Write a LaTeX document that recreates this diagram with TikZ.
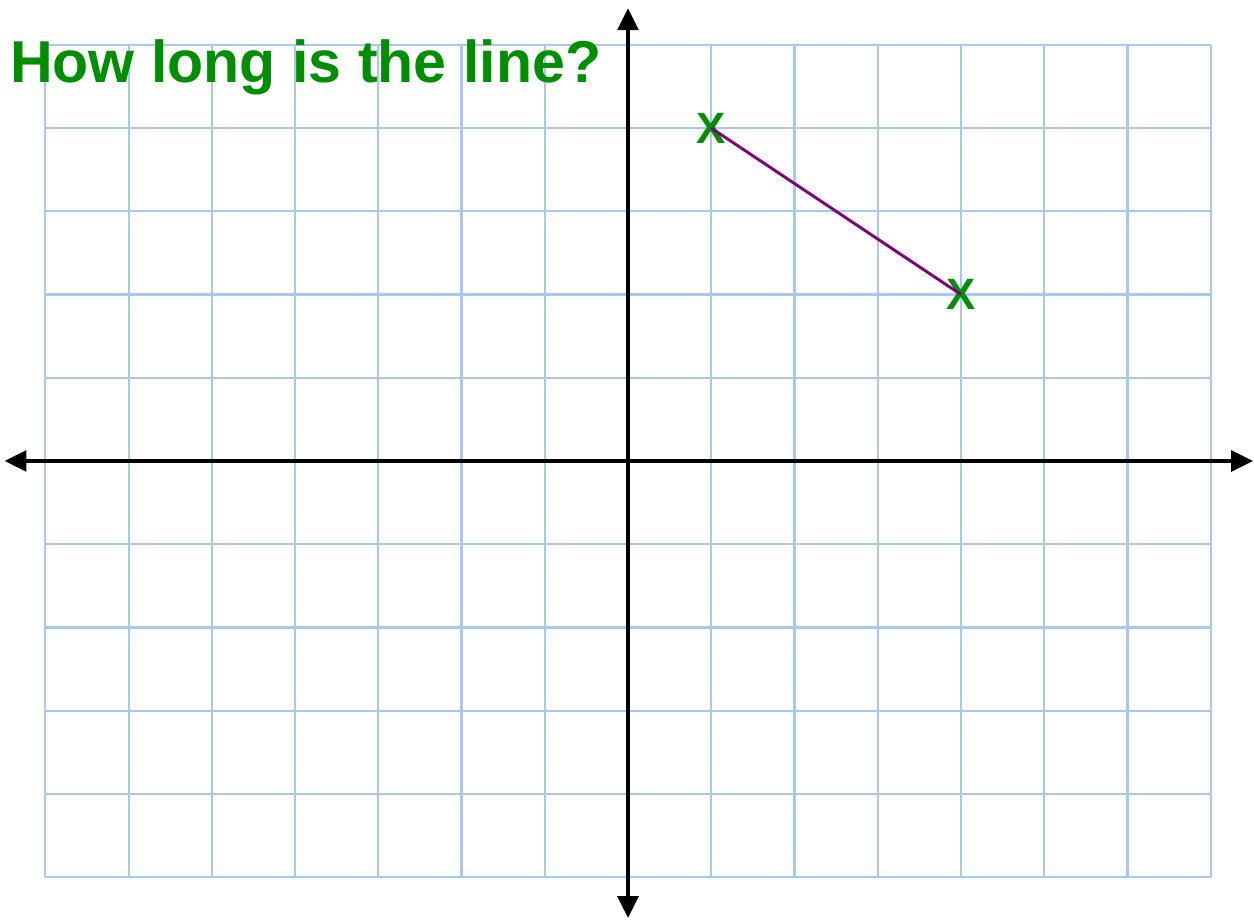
\documentclass[tikz,border=0pt]{standalone}
\usepackage{fontspec}
\setmainfont{Liberation Sans}
\usetikzlibrary{arrows.meta,positioning}
\definecolor{ggreen}{HTML}{008F00}
\definecolor{gblue}{HTML}{A9C8F0}
\definecolor{gpurple}{HTML}{800080}
\tikzset{
  gridline/.style={draw=gblue,line width=0.7pt},
  axis/.style={{Triangle[length=7.5pt,width=7pt]}-{Triangle[length=7.5pt,width=7pt]},line width=1.4pt,draw=black},
  seg/.style={draw=gpurple,line width=1pt},
  xmark/.style={text=ggreen,font=\fontsize{15}{15}\selectfont\bfseries,inner sep=0pt},
  title/.style={text=ggreen,font=\fontsize{20.2}{22}\selectfont\bfseries,inner sep=0pt,anchor=base west},
}

\begin{document}
\begin{tikzpicture}
  \useasboundingbox (-7.544,-5.502) rectangle (7.520,5.538);
  \draw[gridline] (-7,-5) grid (7,5);
  % axes
  \coordinate (xl) at (-7.49,0); \coordinate (xr) at (7.51,0);
  \coordinate (yb) at (0,-5.49); \coordinate (yt) at (0,5.44);
  \draw[axis] (xl) -- (xr);
  \draw[axis] (yb) -- (yt);
  \node[title] (q) at (-7.43,4.55) {How long is the line?};
  % endpoints of the segment
  \coordinate (p) at (1,4); \coordinate (r) at (4,2);
  \node[xmark] (mp) at (p) {X};
  \node[xmark] (mr) at (r) {X};
  \draw[seg] (p) -- (r);
\end{tikzpicture}
\end{document}
